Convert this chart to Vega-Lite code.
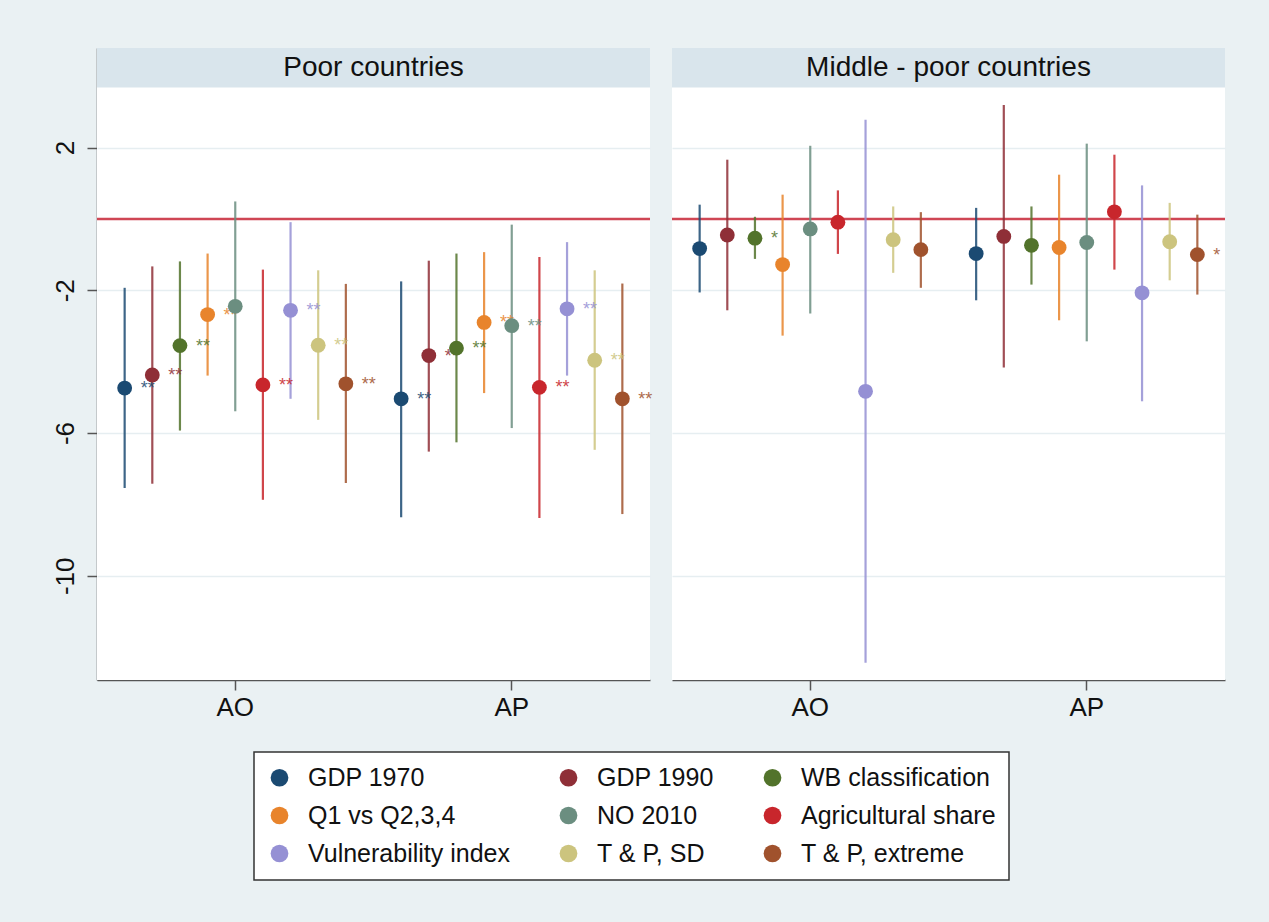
{
  "$schema": "https://vega.github.io/schema/vega-lite/v6.json",
  "background": "#eaf1f3",
  "padding": {"left": 52, "top": 48, "right": 44, "bottom": 42},
  "bounds": "flush",
  "datasets": {
    "ests": [
      {"panel": "Poor countries", "grp": "AO", "series": "GDP 1970", "est": -4.74, "lo": -7.54, "hi": -1.93, "stars": "**"},
      {"panel": "Poor countries", "grp": "AO", "series": "GDP 1990", "est": -4.37, "lo": -7.42, "hi": -1.33, "stars": "**"},
      {"panel": "Poor countries", "grp": "AO", "series": "WB classification", "est": -3.55, "lo": -5.93, "hi": -1.19, "stars": "**"},
      {"panel": "Poor countries", "grp": "AO", "series": "Q1 vs Q2,3,4", "est": -2.68, "lo": -4.39, "hi": -0.97, "stars": "**"},
      {"panel": "Poor countries", "grp": "AO", "series": "NO 2010", "est": -2.45, "lo": -5.39, "hi": 0.49, "stars": ""},
      {"panel": "Poor countries", "grp": "AO", "series": "Agricultural share", "est": -4.65, "lo": -7.87, "hi": -1.42, "stars": "**"},
      {"panel": "Poor countries", "grp": "AO", "series": "Vulnerability index", "est": -2.56, "lo": -5.04, "hi": -0.09, "stars": "**"},
      {"panel": "Poor countries", "grp": "AO", "series": "T & P, SD", "est": -3.54, "lo": -5.63, "hi": -1.44, "stars": "**"},
      {"panel": "Poor countries", "grp": "AO", "series": "T & P, extreme", "est": -4.62, "lo": -7.40, "hi": -1.82, "stars": "**"},
      {"panel": "Poor countries", "grp": "AP", "series": "GDP 1970", "est": -5.04, "lo": -8.36, "hi": -1.75, "stars": "**"},
      {"panel": "Poor countries", "grp": "AP", "series": "GDP 1990", "est": -3.83, "lo": -6.52, "hi": -1.17, "stars": "**"},
      {"panel": "Poor countries", "grp": "AP", "series": "WB classification", "est": -3.62, "lo": -6.26, "hi": -0.97, "stars": "**"},
      {"panel": "Poor countries", "grp": "AP", "series": "Q1 vs Q2,3,4", "est": -2.90, "lo": -4.88, "hi": -0.93, "stars": "**"},
      {"panel": "Poor countries", "grp": "AP", "series": "NO 2010", "est": -2.99, "lo": -5.86, "hi": -0.16, "stars": "**"},
      {"panel": "Poor countries", "grp": "AP", "series": "Agricultural share", "est": -4.72, "lo": -8.38, "hi": -1.07, "stars": "**"},
      {"panel": "Poor countries", "grp": "AP", "series": "Vulnerability index", "est": -2.52, "lo": -4.39, "hi": -0.65, "stars": "**"},
      {"panel": "Poor countries", "grp": "AP", "series": "T & P, SD", "est": -3.96, "lo": -6.47, "hi": -1.44, "stars": "**"},
      {"panel": "Poor countries", "grp": "AP", "series": "T & P, extreme", "est": -5.04, "lo": -8.27, "hi": -1.81, "stars": "**"},
      {"panel": "Middle - poor countries", "grp": "AO", "series": "GDP 1970", "est": -0.83, "lo": -2.06, "hi": 0.40, "stars": ""},
      {"panel": "Middle - poor countries", "grp": "AO", "series": "GDP 1990", "est": -0.45, "lo": -2.56, "hi": 1.66, "stars": ""},
      {"panel": "Middle - poor countries", "grp": "AO", "series": "WB classification", "est": -0.54, "lo": -1.12, "hi": 0.06, "stars": "*"},
      {"panel": "Middle - poor countries", "grp": "AO", "series": "Q1 vs Q2,3,4", "est": -1.28, "lo": -3.27, "hi": 0.68, "stars": ""},
      {"panel": "Middle - poor countries", "grp": "AO", "series": "NO 2010", "est": -0.28, "lo": -2.65, "hi": 2.05, "stars": ""},
      {"panel": "Middle - poor countries", "grp": "AO", "series": "Agricultural share", "est": -0.09, "lo": -0.98, "hi": 0.80, "stars": ""},
      {"panel": "Middle - poor countries", "grp": "AO", "series": "Vulnerability index", "est": -4.83, "lo": -12.44, "hi": 2.78, "stars": ""},
      {"panel": "Middle - poor countries", "grp": "AO", "series": "T & P, SD", "est": -0.58, "lo": -1.51, "hi": 0.35, "stars": ""},
      {"panel": "Middle - poor countries", "grp": "AO", "series": "T & P, extreme", "est": -0.86, "lo": -1.93, "hi": 0.19, "stars": ""},
      {"panel": "Middle - poor countries", "grp": "AP", "series": "GDP 1970", "est": -0.97, "lo": -2.28, "hi": 0.31, "stars": ""},
      {"panel": "Middle - poor countries", "grp": "AP", "series": "GDP 1990", "est": -0.49, "lo": -4.16, "hi": 3.19, "stars": ""},
      {"panel": "Middle - poor countries", "grp": "AP", "series": "WB classification", "est": -0.74, "lo": -1.84, "hi": 0.35, "stars": ""},
      {"panel": "Middle - poor countries", "grp": "AP", "series": "Q1 vs Q2,3,4", "est": -0.80, "lo": -2.84, "hi": 1.24, "stars": ""},
      {"panel": "Middle - poor countries", "grp": "AP", "series": "NO 2010", "est": -0.66, "lo": -3.43, "hi": 2.11, "stars": ""},
      {"panel": "Middle - poor countries", "grp": "AP", "series": "Agricultural share", "est": 0.20, "lo": -1.42, "hi": 1.80, "stars": ""},
      {"panel": "Middle - poor countries", "grp": "AP", "series": "Vulnerability index", "est": -2.07, "lo": -5.11, "hi": 0.94, "stars": ""},
      {"panel": "Middle - poor countries", "grp": "AP", "series": "T & P, SD", "est": -0.64, "lo": -1.72, "hi": 0.45, "stars": ""},
      {"panel": "Middle - poor countries", "grp": "AP", "series": "T & P, extreme", "est": -1.00, "lo": -2.12, "hi": 0.12, "stars": "*"}
    ]
  },
  "data": {"name": "ests"},
  "facet": {
    "column": {
      "field": "panel", "type": "nominal",
      "sort": ["Poor countries", "Middle - poor countries"],
      "header": {"labels": false, "title": null}
    }
  },
  "spacing": 22,
  "spec": {
    "width": 553,
    "height": 632,
    "layer": [
      {
        "transform": [{"filter": "datum.series == 'GDP 1970' && datum.grp == 'AO'"}],
        "mark": {"type": "rect", "fill": "#d9e5ec"},
        "encoding": {
          "x": {"value": 0},
          "x2": {"value": "width"},
          "y": {"datum": 3.68, "type": "quantitative", "title": null, "scale": {"domain": [-12.92, 4.79], "nice": false, "zero": false}, "axis": {"values": [2, -2, -6, -10], "labelExpr": "'' + datum.value"}},
          "y2": {"datum": 4.79}
        }
      },
      {
        "transform": [{"filter": "datum.series == 'GDP 1970' && datum.grp == 'AO'"}],
        "mark": {"type": "text", "fontSize": 28, "font": "Liberation Sans", "color": "#111111", "align": "center", "baseline": "middle"},
        "encoding": {
          "x": {"datum": "AP", "type": "nominal", "bandPosition": 0, "title": null},
          "y": {"datum": 4.235, "type": "quantitative", "title": null},
          "text": {"field": "panel"}
        }
      },
      {
        "transform": [{"filter": "datum.series == 'GDP 1970' && datum.grp == 'AO'"}],
        "mark": {"type": "rule", "color": "#cf4654", "strokeWidth": 2.5},
        "encoding": {
          "y": {"datum": 0, "type": "quantitative", "title": null}
        }
      },
      {
        "mark": {"type": "rule", "strokeWidth": 2.2, "opacity": 0.85},
        "encoding": {
          "x": {"field": "grp", "type": "nominal", "title": null, "scale": {"paddingInner": 0, "paddingOuter": 0}},
          "xOffset": {"field": "series", "type": "nominal", "sort": ["GDP 1970", "GDP 1990", "WB classification", "Q1 vs Q2,3,4", "NO 2010", "Agricultural share", "Vulnerability index", "T & P, SD", "T & P, extreme"], "scale": {"paddingInner": 0, "paddingOuter": 0.5}},
          "y": {"field": "lo", "type": "quantitative", "title": null},
          "y2": {"field": "hi"},
          "color": {"field": "series", "type": "nominal",
            "scale": {"domain": ["GDP 1970", "GDP 1990", "WB classification", "Q1 vs Q2,3,4", "NO 2010", "Agricultural share", "Vulnerability index", "T & P, SD", "T & P, extreme"],
                      "range": ["#1b4a72", "#8f2f37", "#52732b", "#e8842c", "#6b8e80", "#c8262c", "#9590d4", "#ccc47e", "#a0522d"]},
            "legend": {"title": null, "orient": "none", "legendX": 157, "legendY": 704, "columns": 3, "direction": "horizontal"}}
        }
      },
      {
        "mark": {"type": "text", "align": "left", "baseline": "alphabetic", "dx": 16, "dy": 6, "fontSize": 18, "font": "Liberation Sans", "opacity": 0.85},
        "encoding": {
          "x": {"field": "grp", "type": "nominal", "title": null},
          "xOffset": {"field": "series", "type": "nominal", "sort": ["GDP 1970", "GDP 1990", "WB classification", "Q1 vs Q2,3,4", "NO 2010", "Agricultural share", "Vulnerability index", "T & P, SD", "T & P, extreme"]},
          "y": {"field": "est", "type": "quantitative", "title": null},
          "text": {"field": "stars"},
          "color": {"field": "series", "type": "nominal",
            "legend": {"title": null, "orient": "none", "legendX": 157, "legendY": 704, "columns": 3, "direction": "horizontal"}}
        }
      },
      {
        "mark": {"type": "circle", "size": 220, "opacity": 1},
        "encoding": {
          "x": {"field": "grp", "type": "nominal", "title": null},
          "xOffset": {"field": "series", "type": "nominal", "sort": ["GDP 1970", "GDP 1990", "WB classification", "Q1 vs Q2,3,4", "NO 2010", "Agricultural share", "Vulnerability index", "T & P, SD", "T & P, extreme"]},
          "y": {"field": "est", "type": "quantitative", "title": null},
          "color": {"field": "series", "type": "nominal",
            "legend": {"title": null, "orient": "none", "legendX": 157, "legendY": 704, "columns": 3, "direction": "horizontal"}}
        }
      }
    ]
  },
  "config": {
    "font": "Liberation Sans",
    "view": {"fill": "white", "stroke": null},
    "axis": {
      "labelFont": "Liberation Sans", "labelFontSize": 26, "labelColor": "#111111",
      "domainColor": "#555555", "domainWidth": 1.5, "tickColor": "#555555", "tickWidth": 1.5, "tickSize": 10
    },
    "axisY": {"grid": true, "gridColor": "#e6eef1", "gridWidth": 1.5, "labelAngle": -90, "labelAlign": "center", "labelBaseline": "bottom", "labelPadding": 9},
    "axisX": {"grid": false, "labelAngle": 0, "labelPadding": 4, "bandPosition": 0.5},
    "legend": {
      "labelFont": "Liberation Sans", "labelFontSize": 25, "labelColor": "#111111", "labelLimit": 400,
      "symbolType": "circle", "symbolSize": 314, "symbolStrokeWidth": 0, "symbolOpacity": 1,
      "rowPadding": 12, "columnPadding": 46, "labelOffset": 16, "padding": 13,
      "strokeColor": "#333333", "strokeWidth": 1.5, "fillColor": "white", "gridAlign": "each"
    }
  }
}
